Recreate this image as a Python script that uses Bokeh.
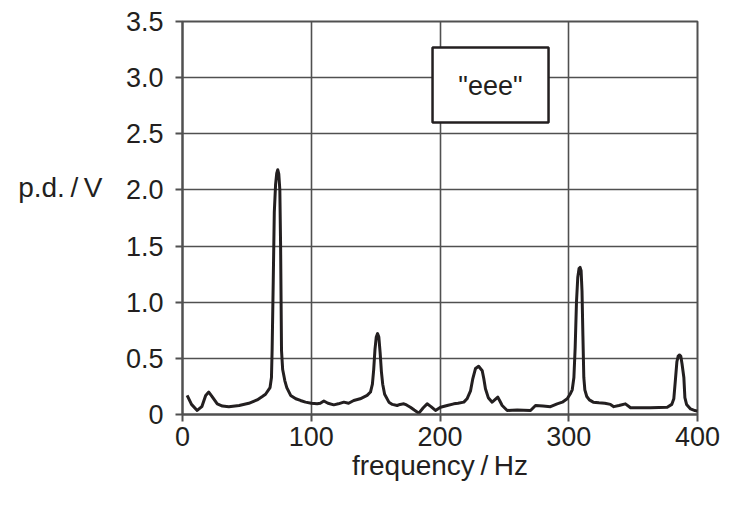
from bokeh.plotting import figure
from bokeh.models import Range1d, FixedTicker, Label, BoxAnnotation, LinearAxis
from bokeh.embed import file_html
from bokeh.resources import INLINE

# frequency (Hz) and p.d. (V)
freq = [3.6, 7, 11.4, 15, 18, 20.4, 23, 27, 31, 36, 44, 51.5, 58, 62, 64.5, 68,
        69.1, 69.6, 70.5, 71.3, 72.3, 73.2, 74, 74.8, 75.6, 76.2, 76.9, 77.8, 79.5, 81,
        84, 88, 91.6, 95.5, 100, 104.6, 107, 109.8, 113, 117.5, 121, 125.3, 129, 133,
        138, 143.4, 146, 147.5, 148.5, 149.5, 150.5, 151.5, 152.5, 153.5, 154.5, 155.5,
        157, 160.3, 163, 166.7, 169, 171.9, 174, 177, 180, 183.6, 187, 190, 193, 196.5,
        200.4, 205.6, 210.7, 214, 218.5, 221, 223.7, 225.5, 227.6, 230, 232.8, 234, 235.3,
        237.5, 240.5, 242.5, 244.9, 246.5, 248.3, 252.2, 256, 260, 265, 270.3, 274.2,
        280, 285.8, 291, 295, 298.8, 301, 302.7, 304, 305, 306, 307, 308, 308.8, 309.6,
        310.3, 311, 311.7, 312.5, 314, 316, 319, 323.4, 328, 332.4, 335, 339, 344, 348,
        355, 363.5, 370, 376.5, 380, 381.6, 383, 384, 385, 386, 387, 388, 389.4, 390.2,
        391.5, 394.6, 398, 400]
pd_v = [0.17, 0.09, 0.036, 0.07, 0.17, 0.2, 0.16, 0.095, 0.075, 0.07, 0.08, 0.1, 0.13, 0.16, 0.18, 0.24,
        0.33, 0.57, 1.2, 1.8, 2.05, 2.15, 2.18, 2.14, 2.0, 1.5, 0.57, 0.4, 0.3, 0.24,
        0.17, 0.14, 0.125, 0.11, 0.1, 0.095, 0.1, 0.12, 0.1, 0.086, 0.095, 0.11, 0.1, 0.125,
        0.14, 0.17, 0.2, 0.27, 0.4, 0.58, 0.69, 0.72, 0.69, 0.55, 0.38, 0.27,
        0.18, 0.11, 0.09, 0.08, 0.09, 0.095, 0.085, 0.065, 0.04, 0.012, 0.06, 0.095, 0.07, 0.036,
        0.065, 0.08, 0.095, 0.1, 0.11, 0.14, 0.21, 0.32, 0.41, 0.43, 0.39, 0.32, 0.23,
        0.15, 0.11, 0.13, 0.155, 0.12, 0.08, 0.036, 0.038, 0.04, 0.038, 0.036, 0.08,
        0.075, 0.07, 0.095, 0.11, 0.14, 0.18, 0.22, 0.33, 0.6, 1.0, 1.22, 1.3, 1.31, 1.28,
        1.1, 0.7, 0.33, 0.22, 0.16, 0.13, 0.11, 0.104, 0.1, 0.09, 0.07, 0.08, 0.095, 0.06,
        0.06, 0.06, 0.062, 0.065, 0.09, 0.14, 0.33, 0.47, 0.52, 0.53, 0.52, 0.45, 0.33, 0.15,
        0.09, 0.05, 0.035, 0.03]

x_ticks = [0, 100, 200, 300, 400]
y_ticks = [0, 0.5, 1.0, 1.5, 2.0, 2.5, 3.0, 3.5]
y_tick_labels = {0: "0", 0.5: "0.5", 1.0: "1.0", 1.5: "1.5", 2.0: "2.0",
                 2.5: "2.5", 3.0: "3.0", 3.5: "3.5"}
legend_text = '"eee"'
x_title = "frequency\u2009/\u2009Hz"
y_title = "p.d.\u2009/\u2009V"

FONT = "Liberation Sans"
FS = "27px"
INK = "#231f20"
GRID = "#505050"

p = figure(width=731, height=499, output_backend="svg", toolbar_location=None,
           x_range=Range1d(0, 400), y_range=Range1d(0, 3.5),
           min_border_left=182, min_border_right=34, min_border_top=21,
           min_border_bottom=85)
p.background_fill_color = "white"
p.border_fill_color = "white"
p.outline_line_color = GRID
p.outline_line_width = 2

for ax in (p.xaxis[0], p.yaxis[0]):
    ax.axis_line_color = GRID
    ax.axis_line_width = 2
    ax.major_tick_line_color = GRID
    ax.major_tick_line_width = 2
    ax.major_tick_out = 7
    ax.major_tick_in = 0
    ax.minor_tick_line_color = None
    ax.major_label_text_font = FONT
    ax.major_label_text_font_size = FS
    ax.major_label_text_color = INK

p.xaxis.ticker = FixedTicker(ticks=x_ticks)
p.yaxis.ticker = FixedTicker(ticks=y_ticks)
p.yaxis.major_label_overrides = y_tick_labels
p.xaxis.major_label_standoff = 5
p.yaxis.major_label_standoff = 12

p.xaxis.axis_label = x_title
p.xaxis.axis_label_text_font = FONT
p.xaxis.axis_label_text_font_size = "28px"
p.xaxis.axis_label_text_font_style = "normal"
p.xaxis.axis_label_text_color = INK
p.xaxis.axis_label_standoff = 1

# second (invisible) left axis carrying the horizontal y title; the two
# trailing empty lines lift the title up to the level of the 2.0 tick
title_axis = LinearAxis(ticker=FixedTicker(ticks=[]),
                        axis_line_color=None, major_tick_line_color=None,
                        minor_tick_line_color=None, major_label_text_font_size="0px",
                        axis_label=y_title + "\n\n", axis_label_orientation="horizontal",
                        axis_label_text_font=FONT, axis_label_text_font_size="28px",
                        axis_label_text_font_style="normal",
                        axis_label_text_line_height=1.0,
                        axis_label_text_color=INK, axis_label_standoff=20)
p.add_layout(title_axis, "left")

p.xgrid.ticker = FixedTicker(ticks=x_ticks)
p.ygrid.ticker = FixedTicker(ticks=y_ticks)
p.grid.grid_line_color = GRID
p.grid.grid_line_width = 1.6
p.grid.grid_line_alpha = 1.0

p.line(freq, pd_v, line_color=INK, line_width=3, line_join="round")

p.add_layout(BoxAnnotation(left=194.2, right=284.3, bottom=2.6, top=3.268,
                           fill_color="white", fill_alpha=1.0, line_alpha=1.0,
                           line_color=INK, line_width=2.5, level="annotation"))
p.add_layout(Label(x=239.2, y=2.93, text=legend_text, text_font=FONT,
                   text_font_size=FS, text_color=INK, text_align="center",
                   text_baseline="middle", level="overlay"))

open("out.html", "w").write(file_html(p, INLINE))
